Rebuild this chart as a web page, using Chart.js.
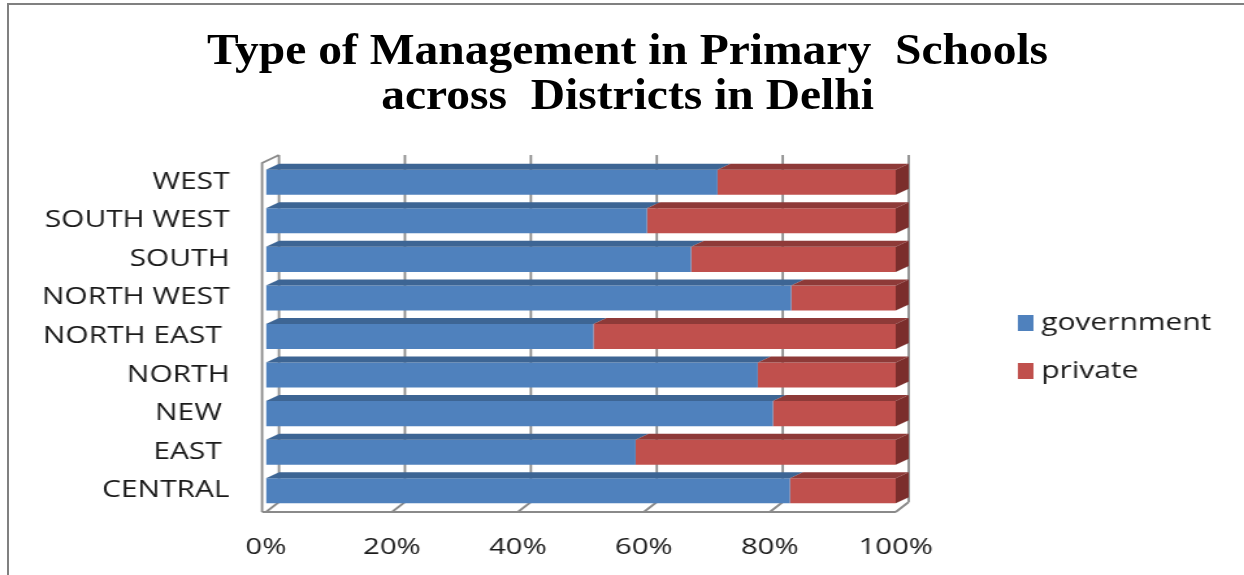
<!DOCTYPE html>
<html>
<head>
<meta charset="utf-8">
<script src="https://cdn.jsdelivr.net/npm/chart.js@4/dist/chart.umd.min.js"></script>
<style>
  html, body { margin: 0; padding: 0; background: #fff; overflow: hidden; }
  #page { position: relative; width: 1244px; height: 575px; }
  #frame { position: absolute; left: 7px; top: 3px; right: -4px; bottom: -4px;
           border-left: 2px solid #808080; border-top: 2px solid #808080; }
  #title { position: absolute; left: 6px; top: 27px; width: 1244px; text-align: center;
           font: bold 44px/45px "Liberation Serif", serif; color: #000; white-space: pre;
           transform: scaleX(1.08); transform-origin: 628px 0; }
  #wrap { position: absolute; left: 0; top: 0; width: 957px; height: 575px;
          transform: scaleX(1.3); transform-origin: 0 0; }
</style>
</head>
<body>
<div id="page">
  <div id="frame"></div>
  <div id="wrap"><canvas id="chart" width="957" height="575"></canvas></div>
  <div id="title">Type of Management in Primary  Schools
across  Districts in Delhi</div>
</div>
<script>
// districts, top to bottom
const districts = ['WEST', 'SOUTH WEST', 'SOUTH', 'NORTH WEST', 'NORTH EAST ', 'NORTH', 'NEW ', 'EAST ', 'CENTRAL'];
// share of primary schools (%)
const government = [71.7, 60.5, 67.5, 83.4, 52.0, 78.1, 80.5, 58.7, 83.2];
const privateShare = [28.3, 39.5, 32.5, 16.6, 48.0, 21.9, 19.5, 41.3, 16.8];
const xTicks = [0, 20, 40, 60, 80, 100];

const frontColors = ['#4F81BD', '#C0504D'];
const topColors = ['#3D6594', '#8E3A38'];
const sideColor = '#7B2E2C';
const DX = 10, DY = 6;      // bar depth
const WALL_DY = 8;          // depth of walls / floor

Chart.defaults.font.family = '"Open Sans", sans-serif';
Chart.defaults.color = '#1a1a1a';

// back gridlines, floor and left wall
const walls = {
  id: 'walls',
  beforeDatasetsDraw(chart) {
    const { ctx, chartArea: a, scales: { x } } = chart;
    const x0 = x.getPixelForValue(0), x1 = x.getPixelForValue(100);
    ctx.save();
    ctx.strokeStyle = '#8a8a8a';
    ctx.lineWidth = 1.8;
    ctx.beginPath();
    x.ticks.forEach(t => {
      const px = x.getPixelForValue(t.value);
      ctx.moveTo(px + DX, a.top - WALL_DY);
      ctx.lineTo(px + DX, a.bottom - WALL_DY);
      ctx.moveTo(px, a.bottom + 2);
      ctx.lineTo(px + DX, a.bottom - WALL_DY);
    });
    ctx.moveTo(x0 - 3, a.bottom + 2);
    ctx.lineTo(x1, a.bottom + 2);
    ctx.moveTo(x0 - 3, a.bottom + 2);
    ctx.lineTo(x0 - 3, a.top);
    ctx.lineTo(x0 + DX, a.top - WALL_DY);
    ctx.stroke();
    ctx.restore();
  }
};

// top and end faces of each bar
const bars3d = {
  id: 'bars3d',
  afterDatasetsDraw(chart) {
    const ctx = chart.ctx;
    const last = chart.data.datasets.length - 1;
    ctx.save();
    chart.data.datasets.forEach((ds, di) => {
      chart.getDatasetMeta(di).data.forEach(bar => {
        const { x: end, base, y, height } = bar.getProps(['x', 'base', 'y', 'height'], true);
        const top = y - height / 2, bottom = y + height / 2;
        ctx.fillStyle = topColors[di];
        ctx.beginPath();
        ctx.moveTo(base, top);
        ctx.lineTo(end, top);
        ctx.lineTo(end + DX, top - DY);
        ctx.lineTo(base + DX, top - DY);
        ctx.closePath();
        ctx.fill();
        if (di === last) {
          ctx.fillStyle = sideColor;
          ctx.beginPath();
          ctx.moveTo(end, top);
          ctx.lineTo(end + DX, top - DY);
          ctx.lineTo(end + DX, bottom - DY);
          ctx.lineTo(end, bottom);
          ctx.closePath();
          ctx.fill();
        }
      });
    });
    ctx.restore();
  }
};

// legend on the right
const sideLegend = {
  id: 'sideLegend',
  afterDraw(chart) {
    const ctx = chart.ctx;
    ctx.save();
    ctx.font = '23px "Open Sans", sans-serif';
    ctx.textBaseline = 'middle';
    chart.data.datasets.forEach((ds, i) => {
      const cy = 323 + i * 48;
      ctx.fillStyle = ds.backgroundColor;
      ctx.fillRect(783, cy - 8, 12, 16);
      ctx.fillStyle = '#1a1a1a';
      ctx.fillText(ds.label, 801, cy);
    });
    ctx.restore();
  }
};

new Chart(document.getElementById('chart'), {
  type: 'bar',
  data: {
    labels: districts,
    datasets: [
      { label: 'government', data: government, backgroundColor: frontColors[0] },
      { label: 'private', data: privateShare, backgroundColor: frontColors[1] }
    ]
  },
  options: {
    indexAxis: 'y',
    responsive: false,
    animation: false,
    categoryPercentage: 1,
    barPercentage: 0.65,
    layout: { padding: { left: 0, top: 163, right: 268, bottom: 0 } },
    plugins: { legend: { display: false }, title: { display: false }, tooltip: { enabled: false } },
    scales: {
      x: {
        stacked: true,
        min: 0,
        max: 100,
        afterBuildTicks: axis => { axis.ticks = xTicks.map(v => ({ value: v })); },
        afterFit: axis => { axis.height = 65; },
        ticks: { padding: 24, maxRotation: 0, minRotation: 0, font: { size: 22.5 }, callback: v => v + '%' },
        grid: { display: false, drawTicks: false, tickLength: 0 },
        border: { display: false }
      },
      y: {
        stacked: true,
        afterFit: axis => { axis.width = 204.6; },
        ticks: { padding: 28, font: { size: 23 } },
        grid: { display: false, drawTicks: false, tickLength: 0 },
        border: { display: false }
      }
    }
  },
  plugins: [walls, bars3d, sideLegend]
});
</script>
</body>
</html>
